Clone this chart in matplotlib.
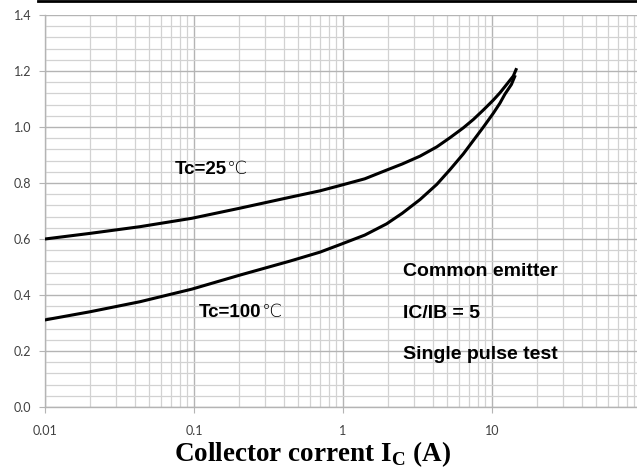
import numpy as np
import matplotlib
matplotlib.use('Agg')
import matplotlib.pyplot as plt
from matplotlib.lines import Line2D

# data (collector current in A, voltage in V)
ic_25 = [0.01, 0.02, 0.0434, 0.0968, 0.203, 0.44, 0.7, 0.955, 1.4, 1.96, 2.5, 3.29, 4.26,
         5.23, 6.42, 7.5, 8.76, 10.2, 11.3, 12.2, 13.9, 14.5]
v_25 = [0.600, 0.620, 0.644, 0.674, 0.710, 0.749, 0.772, 0.791, 0.815, 0.846, 0.868, 0.896,
        0.929, 0.962, 0.997, 1.027, 1.061, 1.096, 1.122, 1.144, 1.182, 1.205]

ic_100 = [0.01, 0.02, 0.0434, 0.0968, 0.203, 0.44, 0.7, 0.955, 1.4, 1.96, 2.5, 3.29, 4.26,
          5.23, 6.42, 7.5, 8.76, 10.2, 11.3, 12.2, 13.5, 14.2]
v_100 = [0.311, 0.340, 0.376, 0.421, 0.471, 0.521, 0.553, 0.580, 0.614, 0.654, 0.692, 0.741,
         0.795, 0.848, 0.904, 0.952, 1.000, 1.049, 1.085, 1.117, 1.152, 1.180]

x_ticks = [0.01, 0.1, 1, 10]
x_ticklabels = ['0.01', '0.1', '1', '10']
y_ticks = [0.0, 0.2, 0.4, 0.6, 0.8, 1.0, 1.2, 1.4]

plt.rcParams['mathtext.fontset'] = 'custom'
plt.rcParams['mathtext.rm'] = 'Liberation Serif:bold'

fig = plt.figure(figsize=(6.37, 4.69), dpi=100)
ax = fig.add_axes([45/637, 62/469, 1 - 45/637, 392/469])

ax.plot(ic_25, v_25, color='black', lw=2.2, zorder=5, solid_joinstyle='round')
ax.plot(ic_100, v_100, color='black', lw=2.2, zorder=5, solid_joinstyle='round')

ax.set_xscale('log')
ax.set_xlim(0.01, 94)
ax.set_ylim(0, 1.4)
ax.set_xticks(x_ticks)
ax.set_xticklabels(x_ticklabels)
ax.set_yticks(y_ticks)
ax.set_yticklabels(['%.1f' % v for v in y_ticks])
ax.set_yticks(np.arange(0, 1.41, 0.04), minor=True)
ax.xaxis.set_minor_locator(matplotlib.ticker.LogLocator(base=10, subs=np.arange(2, 10)))
ax.xaxis.set_minor_formatter(matplotlib.ticker.NullFormatter())

ax.grid(which='major', color='#b4b4b4', lw=1.0)
ax.grid(which='minor', color='#d2d2d2', lw=0.9)
ax.set_axisbelow(True)

for s in ['top', 'right']:
    ax.spines[s].set_visible(False)
for s in ['left', 'bottom']:
    ax.spines[s].set_color('#b4b4b4')
    ax.spines[s].set_linewidth(1.0)

ax.tick_params(axis='both', which='minor', length=0)
ax.tick_params(axis='y', which='major', length=4, color='#b4b4b4', pad=6,
               labelsize=9, labelcolor='#404040')
ax.tick_params(axis='x', which='major', length=4, color='#b4b4b4', pad=9,
               labelsize=9, labelcolor='#404040')
for lab in ax.get_xticklabels() + ax.get_yticklabels():
    lab.set_family('Lato')

# curve labels
t1 = ax.text(0.0746, 0.832, 'Tc=25', family='Liberation Sans', weight='bold',
             fontsize=13.5, va='baseline')
ax.annotate('\u2103', xy=(1, 0), xycoords=t1, xytext=(0, 0), textcoords='offset points',
            va='bottom', fontsize=13, family=['DejaVu Sans'], weight='light')
t2 = ax.text(0.108, 0.320, 'Tc=100', family='Liberation Sans', weight='bold',
             fontsize=13.5, va='baseline')
ax.annotate('\u2103', xy=(1, 0), xycoords=t2, xytext=(0, 0), textcoords='offset points',
            va='bottom', fontsize=13, family=['DejaVu Sans'], weight='light')

# conditions
for txt, yv in [('Common emitter', 0.467), ('IC/IB = 5', 0.317), ('Single pulse test', 0.170)]:
    ax.text(2.53, yv, txt, family='Liberation Sans', weight='bold', fontsize=14,
            va='baseline')

fig.text(312/637, 8/469, r'Collector corrent I$_{\mathrm{C}}$ (A)',
         family='Liberation Serif', weight='bold', fontsize=19.5,
         ha='center', va='baseline')

# black rule across the top
fig.add_artist(Line2D([38/637, 1.0], [1 - 1/469, 1 - 1/469], color='black', lw=2))

fig.savefig('out.png', dpi=100)
